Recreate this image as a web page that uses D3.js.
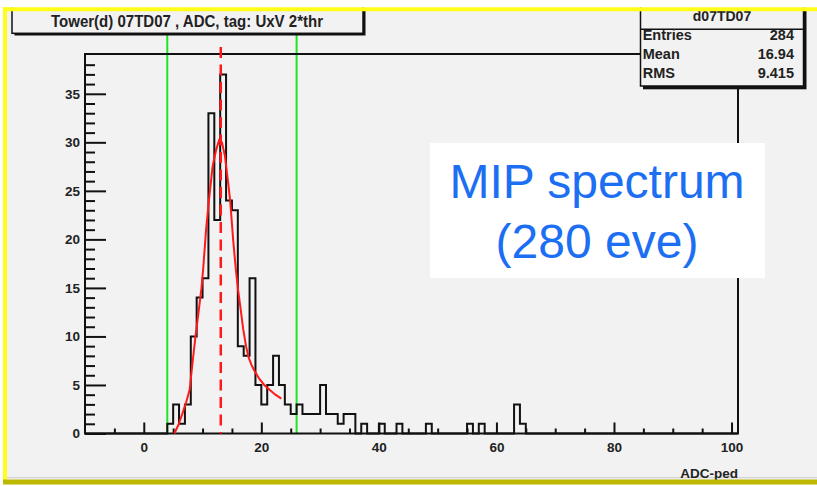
<!DOCTYPE html>
<html>
<head>
<meta charset="utf-8">
<script src="https://cdn.jsdelivr.net/npm/d3@7"></script>
<style>
  body { margin: 0; background: #fff; }
  text { font-family: "Liberation Sans", Arial, sans-serif; }
</style>
</head>
<body>
<svg id="chart"></svg>
<script>
// histogram bins (lower edge, bin width 1) that are not empty
var binX     = [4,5,6,7,8,9,10,11,12,13,14,15,16,17,18,19,20,21,22,23,24,25,26,27,28,29,30,31,32,33,34,35,37,40,43,48,55,57,63,64]
var binCount = [1,3,1,3,10,14,16,33,22,37,24,23,9,8,16,5,3,5,8,5,3,2,3,2,2,2,5,2,2,1,2,2,1,1,1,1,1,1,3,1]

// fitted curve
var fitX = [5.2,5.9,6.6,7.2,7.8,8.35,8.8,9.3,9.8,10.1,10.6,11.1,11.7,12.3,12.8,13.3,13.8,14.3,14.7,15.2,15.6,16.0,16.4,16.9,17.4,17.8,18.3,18.8,19.7,20.5,21.4,22.4,23.4]
var fitY = [0,0.9,2.1,3.2,4.5,7.6,10.0,12.4,14.9,16.9,21.0,24.1,27.5,29.2,30.2,30.0,28.6,26.1,24.0,20.0,17.3,15.0,13.2,10.8,9.0,7.9,7.1,6.5,5.6,5.0,4.5,4.0,3.6]

var windowLines = [4, 26]
var peakLine = 13.1

var xMajorTicks = [0,20,40,60,80,100]
var xMinorTicks = [-5,5,10,15,25,30,35,45,50,55,65,70,75,85,90,95]
var yMajorTicks = [0,5,10,15,20,25,30,35]
var yMinorTicks = d3.range(0, 39).filter(v => v % 5 != 0)

var statsLabels = ["Entries", "Mean", "RMS"]
var statsValues = ["284", "16.94", "9.415"]

var dimensions = {
    width: 817,
    height: 486,
    margin: { top: 54, bottom: 52.5, right: 79, left: 85 }
}

var svg = d3.select("#chart")
            .attr("width", dimensions.width)
            .attr("height", dimensions.height)

var plotBottom = dimensions.height - dimensions.margin.bottom
var plotRight = dimensions.width - dimensions.margin.right

// pad
svg.append("rect").attr("x", 5).attr("y", 9).attr("width", 812).attr("height", 472).style("fill", "#f2f2f2")
svg.append("line").attr("x1", 5).attr("x2", 817).attr("y1", 477.7).attr("y2", 477.7)
   .style("stroke", "#cccccc").style("stroke-width", 1)

var xScale = d3.scaleLinear()
               .domain([-10, 101.1])
               .range([dimensions.margin.left, plotRight])

var yScale = d3.scaleLinear()
               .domain([0, 39.1])
               .range([plotBottom, dimensions.margin.top])

// full list of bins from -10 to 101 for the step outline
var bins = d3.range(-10, 101).map(b => {
    var i = binX.indexOf(b)
    return { x: b, n: i < 0 ? 0 : binCount[i] }
})
bins.push({ x: 101, n: 0 })

var step = d3.line()
             .x(d => xScale(d.x))
             .y(d => yScale(d.n))
             .curve(d3.curveStepAfter)

// green window lines (partly under the title box)
svg.selectAll(".window").data(windowLines).enter().append("line")
   .attr("x1", d => xScale(d)).attr("x2", d => xScale(d))
   .attr("y1", 34).attr("y2", plotBottom)
   .style("stroke", "#1ee61e").style("stroke-width", 2)

// axes: minor then major ticks, pointing inward
var xMinor = svg.append("g")
   .attr("transform", `translate(0,${plotBottom})`)
   .call(d3.axisBottom(xScale).tickValues(xMinorTicks).tickSize(-5).tickFormat(""))
var xMajor = svg.append("g")
   .attr("transform", `translate(0,${plotBottom})`)
   .call(d3.axisBottom(xScale).tickValues(xMajorTicks).tickSize(-11).tickPadding(9))
var yMinor = svg.append("g")
   .attr("transform", `translate(${dimensions.margin.left},0)`)
   .call(d3.axisLeft(yScale).tickValues(yMinorTicks).tickSize(-10).tickFormat(""))
var yMajor = svg.append("g")
   .attr("transform", `translate(${dimensions.margin.left},0)`)
   .call(d3.axisLeft(yScale).tickValues(yMajorTicks).tickSize(-21).tickPadding(5))

svg.selectAll(".domain").remove()
svg.selectAll(".tick line").style("stroke", "#111").style("stroke-width", 2)
svg.selectAll(".tick text").style("font-size", "13.5px").style("font-weight", "bold").style("fill", "#222")

// frame
svg.append("rect")
   .attr("x", dimensions.margin.left).attr("y", dimensions.margin.top)
   .attr("width", plotRight - dimensions.margin.left)
   .attr("height", plotBottom - dimensions.margin.top)
   .style("fill", "none").style("stroke", "#111").style("stroke-width", 2)

// histogram
svg.append("path").datum(bins)
   .attr("d", step)
   .style("fill", "none").style("stroke", "#111").style("stroke-width", 2)

// fit
var fitLine = d3.line().x(d => xScale(d[0])).y(d => yScale(d[1]))
svg.append("path").datum(fitX.map((x, i) => [x, fitY[i]]))
   .attr("d", fitLine)
   .style("fill", "none").style("stroke", "#ff1a1a").style("stroke-width", 2)

svg.append("line")
   .attr("x1", xScale(peakLine)).attr("x2", xScale(peakLine))
   .attr("y1", 47).attr("y2", plotBottom)
   .style("stroke", "#ff1a1a").style("stroke-width", 2.5).style("stroke-dasharray", "11,6.5")

// x title
svg.append("text").attr("x", plotRight).attr("y", 478)
   .attr("text-anchor", "end")
   .style("font-size", "13.5px").style("font-weight", "bold").style("fill", "#222")
   .text("ADC-ped")

// title box
svg.append("rect").attr("x", 14.5).attr("y", 8).attr("width", 351).attr("height", 27.5).style("fill", "#111")
svg.append("rect").attr("x", 12).attr("y", 5).attr("width", 351).attr("height", 28.3)
   .style("fill", "#f2f2f2").style("stroke", "#111").style("stroke-width", 1.5)
svg.append("text").attr("x", 187).attr("y", 27)
   .attr("text-anchor", "middle")
   .attr("textLength", 272).attr("lengthAdjust", "spacingAndGlyphs")
   .style("font-size", "16px").style("font-weight", "bold").style("fill", "#222")
   .text("Tower(d) 07TD07 , ADC, tag: UxV 2*thr")

// stats box
svg.append("rect").attr("x", 643).attr("y", 8).attr("width", 163.5).attr("height", 81.3).style("fill", "#111")
svg.append("rect").attr("x", 640.5).attr("y", 5).attr("width", 163).attr("height", 81)
   .style("fill", "#f2f2f2").style("stroke", "#111").style("stroke-width", 1.5)
svg.append("line").attr("x1", 640.5).attr("x2", 803.5).attr("y1", 29.3).attr("y2", 29.3)
   .style("stroke", "#111").style("stroke-width", 1.5)
svg.append("text").attr("x", 722).attr("y", 21)
   .attr("text-anchor", "middle")
   .style("font-size", "14px").style("font-weight", "bold").style("fill", "#222")
   .text("d07TD07")

var rowY = d3.scalePoint().domain(statsLabels).range([40, 78.3])
svg.selectAll(".slab").data(statsLabels).enter().append("text")
   .attr("x", 642.7).attr("y", d => rowY(d))
   .style("font-size", "14.5px").style("font-weight", "bold").style("fill", "#222")
   .text(d => d)
svg.selectAll(".sval").data(statsValues).enter().append("text")
   .attr("x", 794).attr("y", (d, i) => rowY(statsLabels[i]))
   .attr("text-anchor", "end")
   .style("font-size", "14.5px").style("font-weight", "bold").style("fill", "#222")
   .text(d => d)

// annotation
svg.append("rect").attr("x", 430).attr("y", 143).attr("width", 335).attr("height", 135).style("fill", "#fff")
svg.append("text").attr("x", 597).attr("y", 198).attr("text-anchor", "middle")
   .style("font-size", "48px").style("fill", "#1c6ef2").text("MIP spectrum")
svg.append("text").attr("x", 597).attr("y", 258).attr("text-anchor", "middle")
   .style("font-size", "48px").style("fill", "#1c6ef2").text("(280 eve)")

// yellow border, drawn last
svg.append("rect").attr("x", 0).attr("y", 0).attr("width", 817).attr("height", 7.5).style("fill", "#fff")
svg.append("line").attr("x1", 3).attr("x2", 817).attr("y1", 9.3).attr("y2", 9.3)
   .style("stroke", "#ffff1a").style("stroke-width", 4)
svg.append("line").attr("x1", 5).attr("x2", 5).attr("y1", 7.3).attr("y2", 483)
   .style("stroke", "#ffff1a").style("stroke-width", 4)
svg.append("line").attr("x1", 3).attr("x2", 817).attr("y1", 482).attr("y2", 482)
   .style("stroke", "#bdb800").style("stroke-width", 5)
</script>
</body>
</html>
